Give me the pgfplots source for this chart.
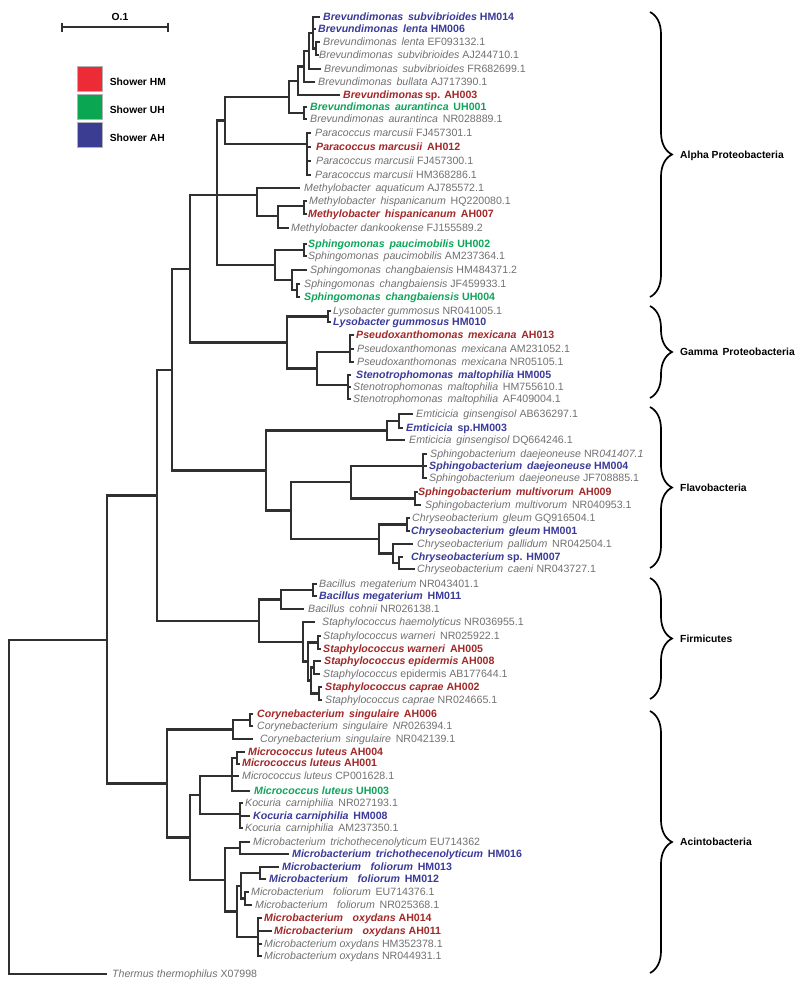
\documentclass[border=0pt]{standalone}
\usepackage{fontspec}
\setmainfont{Liberation Sans}
\usepackage{pgfplots}
\pgfplotsset{compat=1.18}
\usetikzlibrary{decorations.pathreplacing}
\definecolor{treeline}{HTML}{303030}
\definecolor{labgray}{HTML}{707070}
\definecolor{labred}{HTML}{A32828}
\definecolor{labgreen}{HTML}{0EA55A}
\definecolor{labblue}{HTML}{3A3A9A}
\definecolor{boxred}{HTML}{EC2B37}
\definecolor{boxgreen}{HTML}{0AA652}
\definecolor{boxblue}{HTML}{3A3D92}
\newcommand{\lblfont}{\fontsize{10.6}{12}\selectfont}
\newcommand{\ws}{\hspace{0.45em}}
\tikzset{
  tree/.style={treeline, line width=2.1pt, line join=miter},
  lbl/.style={anchor=base west, inner sep=0pt, yshift=-3.8pt, font=\lblfont},
  grpbrace/.style={black, line width=1.7pt, decorate, decoration={brace, amplitude=22pt, aspect=0.5}},
}
\newcommand{\brn}[1]{\addplot[tree, mark=none] coordinates {#1};}
\newcommand{\lgray}[3]{\node[lbl,text=labgray] at (axis cs:#1,#2) {#3};}
\newcommand{\lcol}[4]{\node[lbl,text=#3,font=\lblfont\bfseries] at (axis cs:#1,#2) {#4};}
\newcommand{\grp}[3]{\draw[grpbrace] (axis cs:650,#1) -- (axis cs:650,#2);
  \node[lbl,text=black,font=\fontsize{10.3}{12}\selectfont\bfseries] at (axis cs:680,{(#1+#2)/2}) {#3};}
\begin{document}
\begin{tikzpicture}
\begin{axis}[
  width=800pt, height=991pt, scale only axis,
  xmin=0, xmax=800, ymin=0, ymax=991, y dir=reverse,
  hide axis, clip=false,
  legend image code/.code={\draw[#1, draw=gray!60, line width=0.6pt] (0pt,-9pt) rectangle (25pt,16pt);},
  legend style={at={(axis cs:77,66)}, anchor=north west, draw=none, fill=none,
    inner sep=0pt, row sep=2.5pt, column sep=5pt, font=\fontsize{10.3}{12}\selectfont\bfseries,
    cells={anchor=west}},
]
\addplot[draw=none, forget plot] coordinates {(0,0) (800,991)};
% legend
\addlegendimage{fill=boxred}\addlegendentry{Shower HM}
\addlegendimage{fill=boxgreen}\addlegendentry{Shower UH}
\addlegendimage{fill=boxblue}\addlegendentry{Shower AH}
% scale bar
\brn{(62,27) (168,27)}
\addplot[tree, mark=none, line width=1.7pt] coordinates {(62,22.5) (62,31.5)};
\addplot[tree, mark=none, line width=1.7pt] coordinates {(168,22.5) (168,31.5)};
\node[lbl,text=black,font=\fontsize{10.3}{12}\selectfont\bfseries,anchor=base] at (axis cs:120,17) {O.1};
% ---------------- Alpha
\brn{(320,42) (316,42) (316,55) (319,55)}
\brn{(320,17) (313,17) (313,48.5) (316,48.5)}
\brn{(313,29) (316,29)}
\brn{(313,33) (309,33) (309,69) (321,69)}
\brn{(309,51) (304,51) (304,82) (315,82)}
\brn{(304,66.5) (298,66.5) (298,95) (340,95)}
\brn{(307,107) (304,107) (304,119) (307,119)}
\brn{(298,81) (289,81) (289,113) (304,113)}
\brn{(311,133) (307,133) (307,175) (311,175)}
\brn{(307,147) (311,147)}
\brn{(307,161) (311,161)}
\brn{(289,97) (225,97) (225,144) (307,144)}
\brn{(307,201) (304,201) (304,214) (307,214)}
\brn{(304,206) (278,206) (278,228) (289,228)}
\brn{(300,188) (257,188) (257,216) (278,216)}
\brn{(307,244) (304,244) (304,256) (307,256)}
\brn{(300,284) (297,284) (297,297) (300,297)}
\brn{(307,270) (292,270) (292,290) (297,290)}
\brn{(304,250) (275,250) (275,280) (292,280)}
\brn{(225,120.5) (217,120.5) (217,265) (275,265)}
\brn{(217,195) (257,195)}
% ---------------- Gamma
\brn{(331,311) (328,311) (328,322) (331,322)}
\brn{(354,335) (350,335) (350,362) (354,362)}
\brn{(350,349) (354,349)}
\brn{(351,375) (348,375) (348,399) (351,399)}
\brn{(348,387) (351,387)}
\brn{(350,352) (317,352) (317,385) (348,385)}
\brn{(328,316.5) (287,316.5) (287,368.5) (317,368.5)}
\brn{(217,195) (190,195) (190,342.5) (287,342.5)}
% ---------------- Flavo
\brn{(413,414) (399,414) (399,428) (403,428)}
\brn{(399,421) (387,421) (387,440) (405,440)}
\brn{(427,454) (423,454) (423,478) (427,478)}
\brn{(423,466) (427,466)}
\brn{(418,492) (415,492) (415,505) (421,505)}
\brn{(423,466) (351,466) (351,498.5) (415,498.5)}
\brn{(410,518) (407,518) (407,531) (410,531)}
\brn{(403,557) (399,557) (399,569) (415,569)}
\brn{(413,544) (393,544) (393,563) (399,563)}
\brn{(407,524.5) (379,524.5) (379,553.5) (393,553.5)}
\brn{(351,482) (291,482) (291,539) (379,539)}
\brn{(387,430.5) (266,430.5) (266,510.5) (291,510.5)}
\brn{(190,269) (172,269) (172,470.5) (266,470.5)}
% ---------------- Firmicutes
\brn{(317,584) (313,584) (313,596) (317,596)}
\brn{(313,590) (281,590) (281,609) (304,609)}
\brn{(321,636) (318,636) (318,649) (321,649)}
\brn{(321,661) (314,661) (314,674) (320,674)}
\brn{(322,687) (319,687) (319,700) (322,700)}
\brn{(314,667.5) (311,667.5) (311,693.5) (319,693.5)}
\brn{(318,642.5) (308,642.5) (308,680.5) (311,680.5)}
\brn{(315,622) (303,622) (303,661.5) (308,661.5)}
\brn{(281,599.5) (259,599.5) (259,641.75) (303,641.75)}
\brn{(172,370) (157,370) (157,620.6) (259,620.6)}
% ---------------- Acinto
\brn{(253,714) (250,714) (250,726) (253,726)}
\brn{(250,720) (233,720) (233,739) (253,739)}
\brn{(245,752) (237,752) (237,764) (240,764)}
\brn{(237,758) (232,758) (232,791) (250,791)}
\brn{(232,776) (239,776)}
\brn{(243,803) (240,803) (240,828) (243,828)}
\brn{(240,816) (250,816)}
\brn{(232,776) (200,776) (200,814) (240,814)}
\brn{(250,842) (240,842) (240,854) (289,854)}
\brn{(279,867) (260,867) (260,879) (266,879)}
\brn{(249,892) (245,892) (245,905) (252,905)}
\brn{(260,873) (241,873) (241,898.5) (245,898.5)}
\brn{(262,918) (258,918) (258,956) (262,956)}
\brn{(258,931) (272,931)}
\brn{(258,944) (262,944)}
\brn{(241,886) (237,886) (237,937) (258,937)}
\brn{(240,848) (225,848) (225,911.5) (237,911.5)}
\brn{(200,795) (190,795) (190,880) (225,880)}
\brn{(233,729.5) (167,729.5) (167,837.5) (190,837.5)}
\brn{(157,495.5) (107,495.5) (107,783.5) (167,783.5)}
\brn{(107,640) (9,640) (9,974) (107,974)}
% ---------------- labels
\lcol{323}{17}{labblue}{\textit{Brevundimonas\ws subvibrioides} HM014}
\lcol{318}{29}{labblue}{\textit{Brevundimonas\ws lenta} HM006}
\lgray{323}{42}{\textit{Brevundimonas\ws lenta} EF093132.1}
\lgray{319}{55}{\textit{Brevundimonas\ws subvibrioides} AJ244710.1}
\lgray{324}{69}{\textit{Brevundimonas\ws subvibrioides} FR682699.1}
\lgray{318}{82}{\textit{Brevundimonas\ws bullata} AJ717390.1}
\lcol{343}{95}{labred}{\textit{Brevundimonas}\,sp. AH003}
\lcol{310}{107}{labgreen}{\textit{Brevundimonas\ws aurantinca}\ws UH001}
\lgray{310}{119}{\textit{Brevundimonas\ws aurantinca}\ws NR028889.1}
\lgray{315}{133}{\textit{Paracoccus marcusii} FJ457301.1}
\lcol{316}{147}{labred}{\textit{Paracoccus marcusii}\ws AH012}
\lgray{316}{161}{\textit{Paracoccus marcusii} FJ457300.1}
\lgray{315}{175}{\textit{Paracoccus marcusii} HM368286.1}
\lgray{304}{188}{\textit{Methylobacter\ws aquaticum} AJ785572.1}
\lgray{309}{201}{\textit{Methylobacter\ws hispanicanum}\ws HQ220080.1}
\lcol{308}{214}{labred}{\textit{Methylobacter\ws hispanicanum}\ws AH007}
\lgray{291}{228}{\textit{Methylobacter dankookense} FJ155589.2}
\lcol{308}{244}{labgreen}{\textit{Sphingomonas\ws paucimobilis} UH002}
\lgray{308}{256}{\textit{Sphingomonas\ws paucimobilis} AM237364.1}
\lgray{310}{270}{\textit{Sphingomonas\ws changbaiensis} HM484371.2}
\lgray{304}{284}{\textit{Sphingomonas\ws changbaiensis} JF459933.1}
\lcol{304}{297}{labgreen}{\textit{Sphingomonas\ws changbaiensis} UH004}
\lgray{333}{311}{\textit{Lysobacter gummosus} NR041005.1}
\lcol{333}{322}{labblue}{\textit{Lysobacter gummosus} HM010}
\lcol{356}{335}{labred}{\textit{Pseudoxanthomonas\ws mexicana}\ws AH013}
\lgray{357}{349}{\textit{Pseudoxanthomonas\ws mexicana} AM231052.1}
\lgray{357}{362}{\textit{Pseudoxanthomonas\ws mexicana} NR05105.1}
\lcol{356}{375}{labblue}{\textit{Stenotrophomonas\ws maltophilia} HM005}
\lgray{353}{387}{\textit{Stenotrophomonas\ws maltophilia}\ws HM755610.1}
\lgray{353}{399}{\textit{Stenotrophomonas\ws maltophilia}\ws AF409004.1}
\lgray{416}{414}{\textit{Emticicia\ws ginsengisol} AB636297.1}
\lcol{406}{428}{labblue}{\textit{Emticicia}\ws sp.HM003}
\lgray{409}{440}{\textit{Emticicia\ws ginsengisol} DQ664246.1}
\lgray{430}{454}{\textit{Sphingobacterium\ws daejeoneuse} NR\textit{041407.1}}
\lcol{429}{466}{labblue}{\textit{Sphingobacterium\ws daejeoneuse} HM004}
\lgray{429}{478}{\textit{Sphingobacterium\ws daejeoneuse} JF708885.1}
\lcol{418}{492}{labred}{\textit{Sphingobacterium\ws multivorum}\ws AH009}
\lgray{425}{505}{\textit{Sphingobacterium\ws multivorum}\ws NR040953.1}
\lgray{412}{518}{\textit{Chryseobacterium\ws gleum} GQ916504.1}
\lcol{411}{531}{labblue}{\textit{Chryseobacterium\ws gleum} HM001}
\lgray{417}{544}{\textit{Chryseobacterium\ws pallidum}\ws NR042504.1}
\lcol{411}{557}{labblue}{\textit{Chryseobacterium} sp. HM007}
\lgray{417}{569}{\textit{Chryseobacterium\ws caeni} NR043727.1}
\lgray{319}{584}{\textit{Bacillus\ws megaterium} NR043401.1}
\lcol{319}{596}{labblue}{\textit{Bacillus megaterium}\ws HM011}
\lgray{308}{609}{\textit{Bacillus\ws cohnii} NR026138.1}
\lgray{322}{622}{\textit{Staphylococcus haemolyticus} NR036955.1}
\lgray{323}{636}{\textit{Staphylococcus warneri}\ws NR025922.1}
\lcol{323}{649}{labred}{\textit{Staphylococcus warneri}\ws AH005}
\lcol{324}{661}{labred}{\textit{Staphylococcus epidermis} AH008}
\lgray{323}{674}{\textit{Staphylococcus} epidermis AB177644.1}
\lcol{325}{687}{labred}{\textit{Staphylococcus caprae} AH002}
\lgray{325}{700}{\textit{Staphylococcus caprae} NR024665.1}
\lcol{257}{714}{labred}{\textit{Corynebacterium\ws singulaire}\ws AH006}
\lgray{257}{726}{\textit{Corynebacterium\ws singulaire}\ws \textit{NR}026394.1}
\lgray{260}{739}{\textit{Corynebacterium\ws singulaire}\ws NR042139.1}
\lcol{248}{752}{labred}{\textit{Micrococcus luteus} AH004}
\lcol{242}{763}{labred}{\textit{Micrococcus luteus} AH001}
\lgray{242}{776}{\textit{Micrococcus luteus} CP001628.1}
\lcol{254}{791}{labgreen}{\textit{Micrococcus luteus} UH003}
\lgray{245}{803}{\textit{Kocuria\ws carniphilia}\ws NR027193.1}
\lcol{253}{816}{labblue}{\textit{Kocuria carniphilia}\ws HM008}
\lgray{245}{828}{\textit{Kocuria\ws carniphilia}\ws AM237350.1}
\lgray{253}{842}{\textit{Microbacterium\ws trichothecenolyticum} EU714362}
\lcol{292}{854}{labblue}{\textit{Microbacterium\ws trichothecenolyticum}\ws HM016}
\lcol{282}{867}{labblue}{\textit{Microbacterium\ws\ws foliorum}\ws HM013}
\lcol{269}{879}{labblue}{\textit{Microbacterium\ws\ws foliorum}\ws HM012}
\lgray{251}{892}{\textit{Microbacterium\ws\ws foliorum}\ws EU714376.1}
\lgray{255}{905}{\textit{Microbacterium\ws\ws foliorum}\ws NR025368.1}
\lcol{264}{918}{labred}{\textit{Microbacterium\ws\ws oxydans} AH014}
\lcol{274}{931}{labred}{\textit{Microbacterium\ws\ws oxydans} AH011}
\lgray{264}{944}{\textit{Microbacterium oxydans} HM352378.1}
\lgray{264}{956}{\textit{Microbacterium oxydans} NR044931.1}
\lgray{112}{974}{\textit{Thermus thermophilus} X07998}
% ---------------- groups
\grp{12}{297}{Alpha Proteobacteria}
\grp{306}{398}{Gamma\ws Proteobacteria}
\grp{407}{568}{Flavobacteria}
\grp{578}{699}{Firmicutes}
\grp{711}{973}{Acintobacteria}
\end{axis}
\end{tikzpicture}
\end{document}
